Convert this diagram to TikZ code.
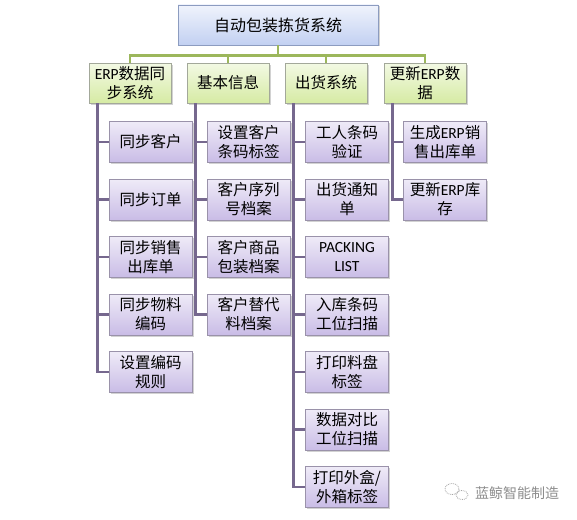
\documentclass[tikz,border=0pt]{standalone}
\usepackage{fontspec}
\setmainfont{Noto Sans CJK SC}
\newfontfamily\latinfont{Carlito}
\usetikzlibrary{calc, shadows}
\definecolor{packB}{HTML}{C2D0F2}
\definecolor{packBline}{HTML}{8C9CC0}
\definecolor{packG}{HTML}{D6EBA4}
\definecolor{packGline}{HTML}{A3A89A}
\definecolor{packP}{HTML}{C9BCE6}
\definecolor{packPline}{HTML}{9A92AA}
\definecolor{stemG}{HTML}{9CB75C}
\definecolor{stemP}{HTML}{76688E}
\tikzstyle{boxbase}=[draw, line width=0.8pt, align=center, inner sep=1pt,
  drop shadow={shadow xshift=1.5pt, shadow yshift=-1.5pt, opacity=0.35},
  font=\fontsize{15.5}{19}\selectfont]
\tikzstyle{rootbox}=[boxbase, draw=packBline, top color=packB!25, bottom color=packB,
  minimum width=200pt, minimum height=40pt, font=\fontsize{16}{19}\selectfont]
\tikzstyle{groupbox}=[boxbase, draw=packGline, top color=packG!30, bottom color=packG,
  minimum width=82pt, minimum height=40pt]
\tikzstyle{leafbox}=[boxbase, draw=packPline, top color=packP!30, bottom color=packP,
  minimum width=83pt, minimum height=41pt]
\tikzstyle{stem}=[stemG, line width=2.5pt]
\tikzstyle{branch}=[stemP, line width=2.5pt]
\tikzstyle{watermark}=[text=black!45, font=\fontsize{14}{16}\selectfont]
\tikzstyle{wmicon}=[black!35, densely dotted, line width=0.8pt]

\begin{document}
\begin{tikzpicture}[x=1pt, y=-1pt]
	\useasboundingbox[fill=white] (0,0) rectangle (577,519);

	% Top of the tree
	\node[rootbox] (root) at (278,25) {自动包装拣货系统};

	% Groups
	\node[groupbox] (erp)  at (130,83) {{\latinfont ERP}数据同\\步系统};
	\node[groupbox] (info) at (228,83) {基本信息};
	\node[groupbox] (ship) at (326,83) {出货系统};
	\node[groupbox] (upd)  at (425,83) {更新{\latinfont ERP}数\\据};

	% ERP sync
	\node[leafbox] (erp1) at (150.5,142)   {同步客户};
	\node[leafbox] (erp2) at (150.5,199.5) {同步订单};
	\node[leafbox] (erp3) at (150.5,257)   {同步销售\\出库单};
	\node[leafbox] (erp4) at (150.5,314.5) {同步物料\\编码};
	\node[leafbox] (erp5) at (150.5,372)   {设置编码\\规则};

	% Basic info
	\node[leafbox] (info1) at (248.5,142)   {设置客户\\条码标签};
	\node[leafbox] (info2) at (248.5,199.5) {客户序列\\号档案};
	\node[leafbox] (info3) at (248.5,257)   {客户商品\\包装档案};
	\node[leafbox] (info4) at (248.5,314.5) {客户替代\\料档案};

	% Shipping
	\node[leafbox] (ship1) at (347,142)   {工人条码\\验证};
	\node[leafbox] (ship2) at (347,199.5) {出货通知\\单};
	\node[leafbox] (ship3) at (347,257)   {\latinfont PACKING\\\latinfont LIST};
	\node[leafbox] (ship4) at (347,314.5) {入库条码\\工位扫描};
	\node[leafbox] (ship5) at (347,372)   {打印料盘\\标签};
	\node[leafbox] (ship6) at (347,429.5) {数据对比\\工位扫描};
	\node[leafbox] (ship7) at (347,487)   {打印外盒/\\外箱标签};

	% Update ERP
	\node[leafbox] (upd1) at (445,142)   {生成{\latinfont ERP}销\\售出库单};
	\node[leafbox] (upd2) at (445,199.5) {更新{\latinfont ERP}库\\存};

	% Connectors
	\draw[stem] (root.south) -- ++(0,10) coordinate (hub);
	\foreach \g in {erp, info, ship, upd}{ \draw[stem] (\g.north) |- (hub); }
	\foreach \g/\n in {erp/5, info/4, ship/7, upd/2}{
		\foreach \i in {1,...,\n}{ \draw[branch] ($(\g.south west)+(9,0)$) |- (\g\i.west); }
	}

	% Watermark
	\draw[wmicon] (452,489) ellipse (7 and 5.5);
	\draw[wmicon] (462,495) ellipse (6 and 4.5);
	\node[watermark] (brand) at (517,493) {蓝鲸智能制造};
\end{tikzpicture}
\end{document}
